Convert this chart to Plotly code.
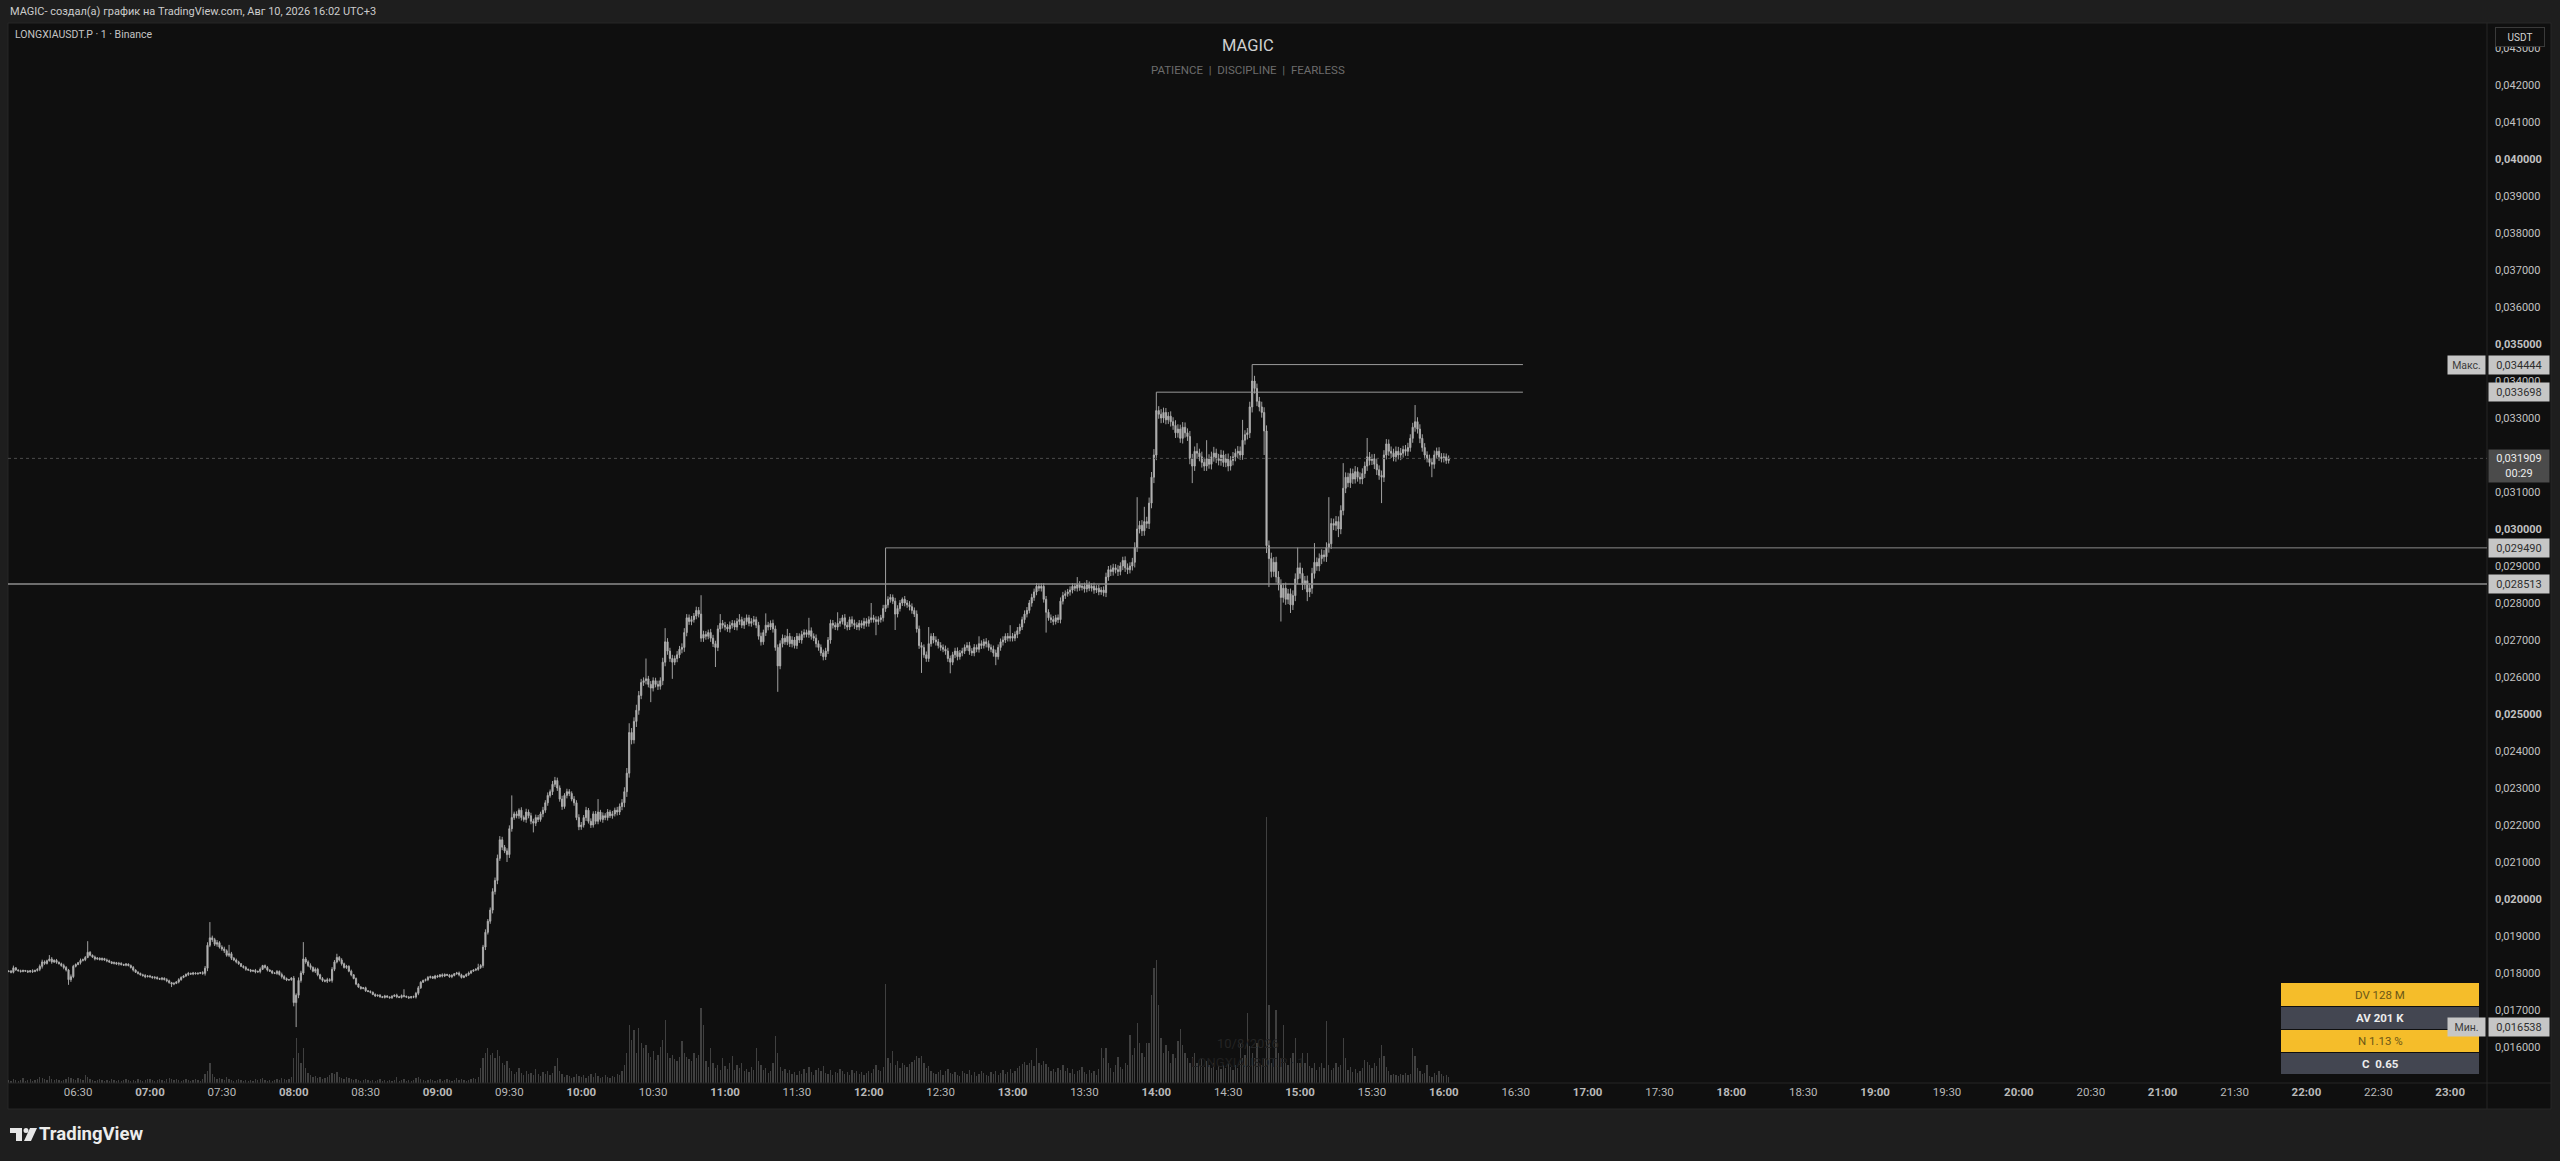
import pandas as pd
import plotly.graph_objects as go

# LONGXIAUSDT.P 1m, Binance -- prices in 1e-6 USDT, one list per hour
# open of each candle = close of the previous one
first_open = 18040

c06 = [18050, 18020, 18140, 18080, 18060, 18040, 18070, 18050, 18030, 18060,
       18040, 18070, 18100, 18180, 18300, 18260, 18330, 18380, 18300, 18340,
       18290, 18250, 18200, 18150, 18080, 17820, 17900, 18180, 18230, 18280,
       18340, 18360, 18420, 18560, 18480, 18430, 18380, 18400, 18360, 18390,
       18350, 18330, 18300, 18260, 18280, 18240, 18260, 18230, 18210, 18240,
       18200, 18150, 18080, 18020, 17990, 17950, 17930, 17900, 17920]
c07 = [17900, 17870, 17880, 17850, 17830, 17860, 17820, 17790, 17740, 17700,
       17720, 17760, 17820, 17880, 17920, 17960, 17990, 17970, 18000, 17980,
       17990, 18010, 17990, 18130, 18750, 18950, 18900, 18780, 18820, 18700,
       18650, 18600, 18480, 18520, 18400, 18350, 18300, 18250, 18180, 18150,
       18100, 18080, 18050, 18070, 18030, 18040, 18100, 18200, 18150, 18080,
       18050, 18000, 17990, 18040, 17960, 17900, 17850, 17810, 17820, 17860]
c08 = [17200, 17400, 17800, 18000, 18380, 18300, 18200, 18150, 18050, 18100,
       17950, 17850, 17800, 17780, 17820, 17800, 18100, 18300, 18420, 18350,
       18250, 18150, 18180, 18050, 17950, 17850, 17700, 17620, 17580, 17600,
       17520, 17500, 17480, 17420, 17380, 17400, 17360, 17340, 17380, 17350,
       17330, 17370, 17400, 17360, 17340, 17390, 17370, 17350, 17330, 17360,
       17350, 17450, 17600, 17750, 17800, 17820, 17880, 17900, 17860, 17920]
c09 = [17900, 17950, 17920, 17960, 17940, 17900, 17930, 17980, 18000, 17950,
       17880, 17920, 17960, 18000, 18050, 18080, 18100, 18150, 18200, 18700,
       19100, 19400, 19700, 20200, 20500, 21100, 21600, 21400, 21300, 21200,
       21900, 22200, 22300, 22250, 22400, 22200, 22150, 22350, 22250, 22100,
       22050, 22200, 22150, 22300, 22400, 22600, 22800, 22900, 23100, 23200,
       23000, 22700, 22500, 22800, 22900, 22850, 22700, 22600, 22200, 21950]
c10 = [22000, 22200, 22400, 22100, 22000, 22300, 22100, 22350, 22150, 22250,
       22200, 22350, 22250, 22300, 22400, 22350, 22500, 22600, 22900, 23400,
       24500, 24300, 24800, 25100, 25500, 25850, 25900, 25950, 25800, 25700,
       25900, 25800, 25750, 25900, 26400, 26950, 26700, 26500, 26400, 26500,
       26600, 26750, 26800, 27200, 27600, 27500, 27550, 27650, 27800, 27700,
       27050, 27150, 27100, 27200, 27050, 26900, 26800, 27300, 27450, 27400]
c11 = [27350, 27300, 27400, 27450, 27350, 27500, 27550, 27400, 27500, 27600,
       27450, 27500, 27550, 27400, 27100, 26950, 27200, 27400, 27350, 27450,
       27300, 26800, 26300, 26900, 27050, 26950, 27100, 26900, 27000, 26850,
       27100, 27000, 27150, 27200, 27150, 27250, 27100, 27050, 26900, 26800,
       26650, 26550, 26700, 27000, 27450, 27400, 27350, 27450, 27500, 27600,
       27400, 27350, 27550, 27450, 27400, 27350, 27450, 27400, 27500, 27450]
c12 = [27550, 27600, 27550, 27500, 27550, 27600, 27850, 27950, 28100, 28150,
       28050, 27700, 27850, 28000, 28100, 28000, 27950, 27900, 27800, 27700,
       27300, 26850, 26800, 26600, 26500, 26900, 27100, 27000, 26950, 26850,
       26800, 26750, 26700, 26500, 26400, 26600, 26700, 26550, 26650, 26700,
       26800, 26850, 26700, 26650, 26800, 26750, 26900, 26850, 26950, 26900,
       26800, 26750, 26650, 26550, 26800, 26950, 27000, 27100, 27050, 27100]
c13 = [27050, 27150, 27250, 27350, 27550, 27700, 27800, 28000, 28150, 28300,
       28450, 28400, 28450, 28100, 27750, 27600, 27550, 27500, 27600, 27550,
       28050, 28200, 28250, 28300, 28350, 28450, 28400, 28500, 28420, 28450,
       28380, 28500, 28400, 28450, 28350, 28400, 28300, 28350, 28280, 28700,
       28900, 28850, 28950, 28900, 28850, 29000, 29150, 28950, 28900, 29000,
       29100, 29500, 30000, 30100, 29950, 30200, 30150, 30700, 31400, 32000]
c14 = [33200, 33100, 33000, 33150, 32950, 33050, 32900, 32800, 32600, 32700,
       32450, 32750, 32600, 32500, 31900, 31700, 32100, 32050, 31950, 31800,
       31700, 31900, 31750, 31950, 32050, 31900, 31850, 32000, 31800, 31900,
       31700, 31850, 31950, 32050, 32100, 32000, 32400, 32550, 32600, 33300,
       34000, 33800, 33450, 33300, 33150, 32650, 29550, 29200, 28850, 29100,
       28700, 28500, 28150, 28400, 28100, 28250, 27950, 28200, 28650, 28950]
c15 = [28800, 28500, 28600, 28300, 28400, 28800, 29100, 29000, 29200, 29300,
       29250, 29500, 29600, 30150, 30100, 30200, 30000, 30500, 31100, 31400,
       31250, 31500, 31350, 31550, 31400, 31350, 31500, 31700, 31950, 31850,
       31900, 31750, 31600, 31450, 31400, 32000, 32300, 32100, 32050, 31950,
       32100, 32000, 32050, 32150, 32100, 32200, 32450, 32750, 32900, 32700,
       32450, 32200, 32000, 31900, 31800, 31750, 32000, 32100, 31950, 31900]
c16 = [31950, 31850, 31909]

# long wicks: minute since 06:00 -> extreme price
high_marks = {3: 18200, 18: 18484, 34: 18860, 85: 19376, 93: 18760, 124: 18835,
              138: 18520, 166: 17560, 197: 18250, 206: 21700, 211: 22800, 214: 22450,
              229: 23300, 247: 22700, 260: 24750, 267: 26500, 275: 27320, 288: 27900,
              290: 28210, 298: 27700, 306: 27700, 317: 27720, 326: 27300, 335: 27600,
              347: 27750, 361: 28000, 367: 29490, 374: 28150, 385: 27350, 406: 27100,
              419: 27400, 430: 28540, 432: 28540, 441: 28300, 447: 28700, 451: 28620,
              466: 29250, 472: 30860, 475: 30600, 480: 33698, 497: 32320, 501: 32400,
              504: 32220, 516: 32950, 520: 34444, 539: 29500, 546: 29620, 552: 30860,
              558: 31780, 563: 31700, 568: 32460, 576: 32430, 583: 32250, 588: 33350,
              597: 32200}
low_marks = {26: 17680, 69: 17620, 120: 17100, 121: 16538, 209: 21000, 220: 21800,
             262: 24200, 269: 25320, 278: 25950, 296: 26270, 322: 25600, 341: 26450,
             363: 27130, 371: 27270, 382: 26110, 394: 26100, 413: 26320, 434: 27200,
             495: 31240, 525: 32000, 526: 29350, 527: 28430, 532: 27500, 536: 27730,
             543: 28050, 556: 29780, 574: 30700, 595: 31400}

# short wicks, in 1e-5 USDT
w06 = [2, 3, 3, 2, 2, 3, 2, 1, 3, 2, 4, 2, 3, 5, 6, 4, 3, 2, 5, 3,
       4, 2, 3, 5, 4, 3, 6, 4, 3, 2, 5, 3, 4, 2, 3, 2, 4, 3, 2, 3,
       2, 4, 3, 2, 3, 2, 4, 3, 2, 3, 2, 3, 4, 2, 3, 2, 3, 4, 2]
w07 = [3, 2, 4, 3, 2, 3, 2, 4, 3, 2, 3, 2, 4, 3, 2, 3, 4, 2, 3, 2,
       3, 2, 4, 6, 8, 5, 6, 5, 7, 4, 5, 6, 4, 5, 5, 3, 4, 3, 2, 3,
       4, 2, 3, 2, 4, 3, 5, 2, 3, 4, 2, 3, 2, 4, 3, 5, 4, 3, 2, 3]
w08 = [6, 5, 8, 6, 5, 5, 4, 6, 3, 5, 4, 3, 4, 3, 5, 4, 6, 5, 4, 4,
       5, 3, 4, 3, 4, 2, 3, 2, 3, 2, 3, 2, 3, 2, 3, 2, 3, 2, 3, 2,
       2, 3, 2, 4, 2, 3, 3, 2, 3, 2, 3, 4, 5, 3, 2, 3, 4, 3, 2, 3]
w09 = [3, 2, 4, 3, 2, 3, 4, 2, 3, 4, 3, 2, 3, 4, 3, 2, 3, 4, 4, 6,
       8, 6, 7, 9, 8, 10, 7, 8, 6, 7, 9, 8, 6, 7, 8, 8, 6, 9, 7, 8,
       7, 8, 7, 6, 9, 7, 8, 6, 9, 7, 8, 7, 9, 6, 8, 7, 6, 8, 7, 9]
w10 = [8, 7, 9, 6, 8, 7, 8, 8, 6, 9, 7, 8, 6, 8, 7, 9, 8, 10, 12, 14,
       12, 12, 11, 15, 12, 10, 9, 10, 8, 9, 9, 8, 10, 9, 12, 11, 10, 9, 10, 8,
       10, 9, 11, 12, 10, 9, 10, 8, 9, 9, 10, 10, 9, 8, 10, 9, 8, 10, 9, 9]
w11 = [9, 8, 10, 9, 8, 9, 9, 8, 10, 9, 8, 9, 10, 8, 9, 10, 8, 9, 9, 8,
       10, 9, 8, 9, 10, 8, 9, 9, 10, 8, 9, 8, 10, 9, 8, 9, 9, 8, 10, 9,
       8, 9, 9, 8, 10, 9, 8, 9, 9, 8, 10, 9, 8, 9, 10, 8, 9, 8, 10, 9]
w12 = [9, 8, 8, 9, 9, 8, 10, 9, 8, 9, 8, 9, 9, 8, 8, 9, 8, 10, 9, 8,
       10, 9, 9, 8, 9, 9, 8, 9, 10, 8, 9, 8, 10, 9, 8, 8, 9, 10, 8, 9,
       8, 9, 10, 8, 9, 8, 9, 9, 8, 10, 9, 8, 10, 9, 8, 9, 10, 8, 9, 9]
w13 = [9, 8, 10, 9, 8, 10, 9, 8, 10, 9, 9, 8, 9, 9, 9, 8, 9, 10, 8, 9,
       10, 9, 9, 8, 10, 9, 8, 9, 9, 8, 10, 9, 8, 9, 10, 8, 9, 8, 10, 12,
       10, 12, 11, 10, 12, 10, 11, 11, 12, 10, 12, 14, 12, 12, 14, 13, 13, 15, 14, 16]
w14 = [14, 12, 14, 13, 12, 11, 13, 12, 14, 13, 12, 14, 13, 12, 15, 13, 13, 14, 12, 14,
       13, 13, 12, 14, 13, 12, 13, 14, 12, 13, 14, 12, 13, 12, 14, 13, 13, 12, 13, 14,
       15, 14, 13, 12, 14, 14, 15, 14, 16, 14, 15, 16, 14, 14, 15, 13, 14, 14, 15, 14]
w15 = [14, 15, 13, 14, 14, 15, 14, 13, 14, 15, 13, 14, 14, 14, 13, 15, 14, 14, 13, 13,
       12, 14, 13, 12, 12, 13, 14, 12, 13, 13, 12, 13, 14, 12, 13, 13, 12, 12, 13, 12,
       13, 12, 14, 12, 12, 13, 11, 12, 12, 12, 13, 11, 12, 10, 11, 12, 12, 11, 11, 10]
w16 = [10, 9, 8]

# volume, K
v06 = [30, 20, 40, 30, 20, 30, 50, 20, 30, 40, 20, 30, 40, 60, 50, 40, 30, 70, 40, 30,
       40, 30, 20, 30, 40, 60, 50, 40, 30, 50, 40, 30, 80, 60, 40, 30, 20, 30, 40, 30,
       20, 30, 20, 40, 30, 20, 30, 20, 30, 40, 30, 20, 30, 20, 40, 30, 20, 30, 40]
v07 = [40, 30, 20, 30, 40, 30, 20, 40, 50, 40, 30, 40, 30, 20, 30, 40, 30, 20, 30, 40,
       30, 20, 40, 90, 120, 200, 90, 60, 40, 50, 40, 30, 60, 40, 30, 20, 30, 40, 30, 20,
       30, 20, 30, 20, 40, 30, 40, 50, 30, 20, 30, 20, 30, 40, 30, 50, 40, 30, 40, 60]
v08 = [250, 450, 300, 200, 350, 150, 100, 80, 60, 70, 50, 60, 40, 50, 60, 80, 100, 90, 110, 60,
       50, 40, 60, 50, 40, 30, 40, 30, 20, 30, 40, 30, 20, 30, 20, 30, 40, 20, 30, 20,
       30, 20, 30, 60, 20, 30, 40, 20, 30, 20, 30, 50, 60, 40, 30, 20, 30, 40, 30, 20]
v09 = [30, 40, 20, 30, 40, 30, 20, 30, 50, 30, 40, 30, 20, 30, 40, 50, 40, 60, 150, 250,
       300, 350, 280, 300, 250, 330, 270, 200, 180, 220, 150, 120, 90, 110, 150, 100, 80, 120, 90, 100,
       80, 140, 90, 70, 110, 90, 120, 80, 100, 170, 250, 120, 90, 60, 80, 70, 50, 60, 90, 70]
v10 = [60, 80, 50, 70, 90, 60, 100, 70, 50, 60, 80, 60, 50, 70, 60, 90, 80, 120, 180, 300,
       580, 430, 530, 300, 550, 400, 350, 380, 300, 260, 320, 230, 280, 360, 430, 630, 300, 250, 280, 240,
       220, 260, 420, 300, 260, 240, 220, 300, 250, 280, 750, 580, 220, 160, 350, 200, 150, 180, 130, 250]
v11 = [170, 140, 200, 270, 130, 180, 150, 200, 120, 140, 110, 160, 130, 350, 220, 180, 130, 150, 100, 120,
       200, 470, 300, 160, 120, 140, 100, 130, 90, 110, 80, 120, 90, 140, 100, 160, 110, 80, 130, 150,
       120, 170, 100, 90, 130, 80, 110, 100, 140, 120, 90, 110, 80, 130, 100, 120, 90, 110, 80, 100]
v12 = [120, 100, 140, 180, 130, 120, 160, 990, 250, 200, 320, 180, 220, 150, 200, 180, 160, 190, 210, 230,
       270, 250, 270, 200, 150, 170, 120, 100, 90, 110, 130, 80, 120, 140, 100, 90, 110, 80, 70, 120,
       100, 90, 130, 80, 110, 70, 90, 120, 100, 80, 70, 110, 90, 120, 80, 100, 130, 90, 110, 140]
v13 = [100, 120, 150, 170, 190, 210, 180, 200, 230, 170, 350, 200, 180, 220, 190, 160, 120, 140, 110, 150,
       130, 180, 120, 150, 100, 140, 90, 120, 130, 160, 110, 90, 130, 100, 120, 80, 140, 350, 250, 350,
       200, 150, 110, 180, 260, 160, 140, 200, 180, 480, 280, 350, 600, 400, 300, 260, 400, 400, 880, 1150]
v14 = [1230, 780, 450, 300, 380, 320, 200, 290, 250, 420, 540, 380, 300, 250, 200, 260, 300, 200, 180, 240,
       160, 220, 180, 150, 200, 130, 170, 140, 180, 150, 200, 160, 130, 180, 150, 400, 250, 280, 700, 370,
       300, 250, 400, 200, 180, 250, 2660, 780, 200, 250, 730, 300, 250, 580, 200, 180, 250, 300, 450, 200]
v15 = [200, 300, 200, 300, 170, 150, 200, 130, 160, 200, 150, 620, 180, 130, 150, 200, 160, 180, 450, 250,
       130, 160, 110, 140, 100, 120, 150, 230, 210, 180, 150, 200, 170, 250, 380, 270, 160, 120, 80, 90,
       80, 70, 90, 80, 100, 80, 90, 350, 270, 150, 120, 90, 100, 180, 70, 60, 100, 80, 120, 90]
v16 = [70, 80, 60]

price_ticks = list(range(16, 44))          # 0,016000 ... 0,043000
time_ticks = list(range(390, 1381, 30))    # minutes after midnight, 06:30 ... 23:00

closes = c06 + c07 + c08 + c09 + c10 + c11 + c12 + c13 + c14 + c15 + c16
wicks = w06 + w07 + w08 + w09 + w10 + w11 + w12 + w13 + w14 + w15 + w16
vols = v06 + v07 + v08 + v09 + v10 + v11 + v12 + v13 + v14 + v15 + v16
n = len(closes)
assert len(wicks) == n and len(vols) == n, (n, len(wicks), len(vols))

times = pd.date_range("2026-08-10 06:01", periods=n, freq="min")
opens = [first_open] + closes[:-1]
highs, lows = [], []
for i in range(n):
    t = i + 1
    o, c, w = opens[i], closes[i], wicks[i] * 10
    highs.append(high_marks.get(t, max(o, c) + w))
    lows.append(low_marks.get(t, min(o, c) - w))

k = 1e-6
day = pd.Timestamp("2026-08-10")

# pixel helpers (plot area 8..2487 x 24..1083)
W, H = 2479, 1059
def px(x):
    return (x - 8) / W
def py(y):
    return (1083 - y) / H

candle_col = "#b1b1b1"
fig = go.Figure()
fig.add_trace(go.Bar(x=times, y=vols, yaxis="y2", width=32000,
                     marker=dict(color="rgba(105,105,105,0.55)", line=dict(width=0)),
                     showlegend=False, hoverinfo="skip"))
fig.add_trace(go.Candlestick(
    x=times, open=[v * k for v in opens], high=[v * k for v in highs],
    low=[v * k for v in lows], close=[v * k for v in closes],
    increasing=dict(line=dict(color=candle_col, width=0.9), fillcolor=candle_col),
    decreasing=dict(line=dict(color=candle_col, width=0.9), fillcolor=candle_col),
    whiskerwidth=0, showlegend=False, hoverinfo="skip"))

x_end = day + pd.Timedelta(minutes=1395.37)
def tmin(t):
    return day + pd.Timedelta(hours=6, minutes=t)

shapes = [
    # chart frame
    dict(type="rect", xref="paper", yref="paper", x0=px(8), x1=px(2551), y0=py(23), y1=py(1109),
         fillcolor="#0f0f0f", line=dict(color="#262626", width=1), layer="below"),
    dict(type="line", xref="paper", yref="paper", x0=1, x1=1, y0=py(23), y1=py(1109),
         line=dict(color="#272727", width=1)),
    dict(type="line", xref="paper", yref="paper", x0=0, x1=px(2551), y0=0, y1=0,
         line=dict(color="#272727", width=1)),
    # drawings
    dict(type="line", xref="x", yref="y", x0=tmin(520), x1=tmin(633), y0=0.034444, y1=0.034444,
         line=dict(color="#9a9a9a", width=1)),
    dict(type="line", xref="x", yref="y", x0=tmin(480), x1=tmin(633), y0=0.033698, y1=0.033698,
         line=dict(color="#9a9a9a", width=1)),
    dict(type="line", xref="x", yref="y", x0=tmin(367), x1=x_end, y0=0.029490, y1=0.029490,
         line=dict(color="#8a8a8a", width=1)),
    dict(type="line", xref="paper", yref="y", x0=0, x1=1, y0=0.028513, y1=0.028513,
         line=dict(color="#8e8e8e", width=1.6)),
    dict(type="line", xref="paper", yref="y", x0=0, x1=1, y0=0.031909, y1=0.031909,
         line=dict(color="#4c4c4c", width=1, dash="dot")),
]

# info table (bottom right)
rows = [("DV 128 M", "#f5bd2a", "#6b5716", False, 983, 1006),
        ("AV 201 K", "#434651", "#ececec", True, 1007, 1029),
        ("N 1.13 %", "#f5bd2a", "#6b5716", False, 1030, 1052),
        ("C  0.65", "#434651", "#ececec", True, 1053, 1074)]
annotations = []
for txt, bg, fg, bold, y0, y1 in rows:
    shapes.append(dict(type="rect", xref="paper", yref="paper", x0=px(2281), x1=px(2479),
                       y0=py(y1), y1=py(y0), fillcolor=bg, line=dict(width=0), layer="above"))
    annotations.append(dict(xref="paper", yref="paper", x=px(2380), y=py((y0 + y1) / 2),
                            text=f"<b>{txt}</b>" if bold else txt, showarrow=False,
                            xanchor="center", yanchor="middle",
                            font=dict(size=11.5, color=fg)))

# TradingView logo
shapes += [
    dict(type="rect", xref="paper", yref="paper", x0=px(10), x1=px(22), y0=py(1133), y1=py(1128),
         fillcolor="#e6e6e6", line=dict(width=0)),
    dict(type="rect", xref="paper", yref="paper", x0=px(16), x1=px(22), y0=py(1141), y1=py(1128),
         fillcolor="#e6e6e6", line=dict(width=0)),
    dict(type="circle", xref="paper", yref="paper", x0=px(23.5), x1=px(28.5), y0=py(1133), y1=py(1128),
         fillcolor="#e6e6e6", line=dict(width=0)),
    dict(type="path", xref="paper", yref="paper",
         path=f"M {px(30)},{py(1128)} L {px(37)},{py(1128)} L {px(31)},{py(1141)} L {px(24)},{py(1141)} Z",
         fillcolor="#e6e6e6", line=dict(width=0)),
]

def text(x, y, s, size, color, xanchor="left", **kw):
    annotations.append(dict(xref="paper", yref="paper", x=x, y=y, text=s, showarrow=False,
                            xanchor=xanchor, yanchor="middle", font=dict(size=size, color=color, **kw)))

text(px(8), py(11), "MAGIC- создал(а) график на TradingView.com, Авг 10, 2026 16:02 UTC+3", 11, "#cccccc")
text(px(13), py(34), "LONGXIAUSDT.P · 1 · Binance", 10.5, "#c4c4c4")
text(0.5, py(45), "MAGIC", 16.5, "#cfcfcf", xanchor="center")
text(0.5, py(70), "PATIENCE  |  DISCIPLINE  |  FEARLESS", 11.5, "#6c6c6c", xanchor="center")
text(px(37), py(1134), "<b>TradingView</b>", 18.5, "#ececec")
text(0.5, py(1043), "10/8/2026", 13, "#242424", xanchor="center")
text(0.5, py(1062), "LONGXIAUSDT.P · 1", 13, "#202020", xanchor="center")

# USDT box at top of price scale
annotations.append(dict(xref="paper", yref="paper", x=px(2520), y=py(37), text="USDT",
                        showarrow=False, xanchor="center", yanchor="middle",
                        font=dict(size=10, color="#d4d4d4"),
                        bgcolor="#0f0f0f", bordercolor="#3a3a3a", borderwidth=1,
                        width=44, height=14, borderpad=2))

def tag(price, s, bg, fg, h=14):
    annotations.append(dict(xref="paper", yref="y", x=1 + 1 / W, y=price, text=s,
                            showarrow=False, xanchor="left", yanchor="middle",
                            bgcolor=bg, font=dict(size=11, color=fg), width=56, height=h,
                            borderpad=2, align="center"))

def side_tag(price, s):
    annotations.append(dict(xref="paper", yref="y", x=1 - 1 / W, y=price, text=s,
                            showarrow=False, xanchor="right", yanchor="middle",
                            bgcolor="#c6c6c6", font=dict(size=10.5, color="#3c3c3c"),
                            width=33, height=14, borderpad=2))

tag(0.034444, "0,034444", "#c6c6c6", "#2e2e2e")
side_tag(0.034444, "Макс.")
tag(0.033698, "0,033698", "#c6c6c6", "#2e2e2e")
tag(0.03169, "0,031909<br>00:29", "#4b4b4b", "#ececec", h=28)
tag(0.029490, "0,029490", "#c6c6c6", "#2e2e2e")
tag(0.028513, "0,028513", "#c6c6c6", "#2e2e2e")
tag(0.016538, "0,016538", "#c6c6c6", "#2e2e2e")
side_tag(0.016538, "Мин.")

y_text = [f"<b>0,{v:03d}000</b>" if v % 5 == 0 else f"0,{v:03d}000" for v in price_ticks]
x_vals = [day + pd.Timedelta(minutes=m) for m in time_ticks]
x_text = [f"<b>{m // 60:02d}:00</b>" if m % 60 == 0 else f"{m // 60:02d}:30" for m in time_ticks]

fig.update_layout(
    width=2560, height=1161,
    margin=dict(l=8, r=73, t=24, b=78),
    paper_bgcolor="#1e1e1e", plot_bgcolor="rgba(0,0,0,0)",
    font=dict(family="Roboto, 'Open Sans', sans-serif", color="#c0c0c0"),
    bargap=0, showlegend=False, shapes=shapes, annotations=annotations,
    xaxis=dict(type="date", range=[day + pd.Timedelta(minutes=360.74), x_end],
               tickvals=x_vals, ticktext=x_text, showgrid=False, zeroline=False,
               showline=False, ticks="", tickfont=dict(size=11.5, color="#b9b9b9"),
               rangeslider=dict(visible=False), fixedrange=True),
    yaxis=dict(side="right", range=[0.015027, 0.0436486], tickvals=[v / 1000 for v in price_ticks],
               ticktext=y_text, showgrid=False, zeroline=False, showline=False, ticks="",
               tickfont=dict(size=11, color="#c2c2c2"), ticklabelstandoff=7, fixedrange=True),
    yaxis2=dict(overlaying="y", range=[0, 10590], visible=False),
)

fig.write_html("out.html", config={"displayModeBar": False},
               post_script="document.body.style.margin='0';")
